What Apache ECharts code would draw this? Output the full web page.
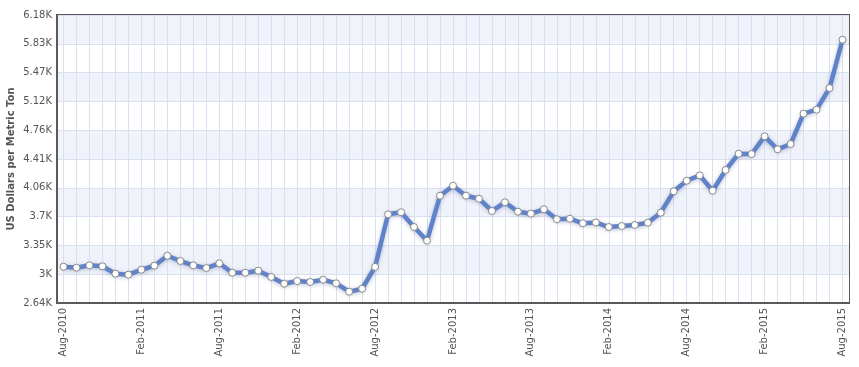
<!DOCTYPE html>
<html>
<head>
<meta charset="utf-8">
<script src="https://cdn.jsdelivr.net/npm/echarts@6/dist/echarts.min.js"></script>
<style>
html,body{margin:0;padding:0;background:#fff;}
#chart{width:859px;height:367px;}
</style>
</head>
<body>
<div id="chart"></div>
<script>
var categories = [
  'Aug-2010','Sep-2010','Oct-2010','Nov-2010','Dec-2010','Jan-2011','Feb-2011','Mar-2011','Apr-2011','May-2011','Jun-2011','Jul-2011',
  'Aug-2011','Sep-2011','Oct-2011','Nov-2011','Dec-2011','Jan-2012','Feb-2012','Mar-2012','Apr-2012','May-2012','Jun-2012','Jul-2012',
  'Aug-2012','Sep-2012','Oct-2012','Nov-2012','Dec-2012','Jan-2013','Feb-2013','Mar-2013','Apr-2013','May-2013','Jun-2013','Jul-2013',
  'Aug-2013','Sep-2013','Oct-2013','Nov-2013','Dec-2013','Jan-2014','Feb-2014','Mar-2014','Apr-2014','May-2014','Jun-2014','Jul-2014',
  'Aug-2014','Sep-2014','Oct-2014','Nov-2014','Dec-2014','Jan-2015','Feb-2015','Mar-2015','Apr-2015','May-2015','Jun-2015','Jul-2015',
  'Aug-2015'
];
var prices = [
  3086,3074,3103,3091,3000,2988,3049,3098,3221,3156,3103,3070,
  3128,3012,3012,3037,2960,2877,2910,2898,2926,2882,2779,2815,
  3084,3730,3755,3574,3406,3959,4082,3959,3922,3771,3878,3762,
  3738,3792,3669,3676,3620,3630,3574,3586,3599,3627,3750,4013,
  4143,4209,4020,4275,4475,4471,4689,4529,4594,4967,5016,5282,
  5876
];
var yTickLabels = ['2.64K','3K','3.35K','3.7K','4.06K','4.41K','4.76K','5.12K','5.47K','5.83K','6.18K'];
var yMin = 2640, yMax = 6180, yStep = 354;
var yName = 'US Dollars per Metric Ton';

var chart = echarts.init(document.getElementById('chart'), null, {renderer:'canvas'});
chart.setOption({
  animation:false,
  backgroundColor:'#ffffff',
  grid:{left:57,top:15,right:10,bottom:64,outerBoundsMode:'none',containLabel:false,show:true,borderColor:'#5a5a5a',borderWidth:2,backgroundColor:'transparent'},
  xAxis:{
    type:'category',
    data:categories,
    boundaryGap:true,
    axisLine:{show:true,lineStyle:{color:'#5a5a5a',width:2}},
    axisTick:{show:false},
    axisLabel:{interval:5,rotate:90,margin:5,color:'#555',fontFamily:'DejaVu Sans',fontSize:10},
    splitLine:{show:true,interval:0,alignWithLabel:true,lineStyle:{color:'#d9e1f0',width:1}}
  },
  yAxis:{
    type:'value',
    min:yMin,max:yMax,interval:yStep,
    name:yName,nameLocation:'middle',nameGap:41,nameMoveOverlap:false,
    nameTextStyle:{color:'#555',fontFamily:'DejaVu Sans',fontSize:10,fontWeight:'bold'},
    axisLine:{show:true,lineStyle:{color:'#5a5a5a',width:2}},
    axisTick:{show:false},
    axisLabel:{margin:5,color:'#555',fontFamily:'DejaVu Sans',fontSize:10,
      formatter:function(v){var k=Math.round((v-yMin)/yStep);return yTickLabels[k]||'';}},
    splitLine:{show:true,lineStyle:{color:'#d9e1f0',width:1}},
    splitArea:{show:true,areaStyle:{color:['#ffffff','#f0f3fa']}}
  },
  series:[{
    type:'line',
    data:prices,
    symbol:'circle',
    symbolSize:7,
    itemStyle:{color:'#ffffff',borderColor:'#8a8a8a',borderWidth:1},
    lineStyle:{color:'#5f82c9',width:4.5,shadowColor:'rgba(60,80,140,0.35)',shadowBlur:4,shadowOffsetY:1},
    z:3
  }]
});
</script>
</body>
</html>
